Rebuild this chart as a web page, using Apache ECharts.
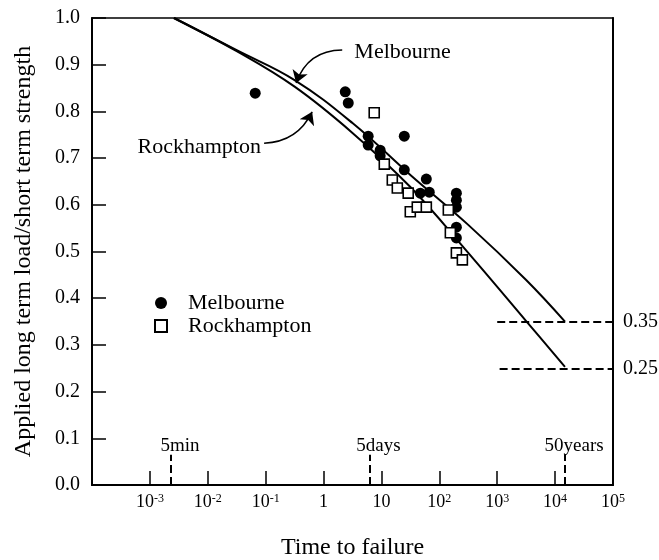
<!DOCTYPE html>
<html>
<head>
<meta charset="utf-8">
<script src="https://cdn.jsdelivr.net/npm/echarts@6/dist/echarts.min.js"></script>
<style>
html, body { margin: 0; padding: 0; background: #fff; }
#chart { width: 659px; height: 560px; }
</style>
</head>
<body>
<div id="chart"></div>
<script>
// test data (time to failure, load ratio)
const melbourneTime  = [0.066, 2.37, 2.67, 5.9, 5.9, 9.5, 9.5, 24.8, 24.8, 59.6, 46.9, 67, 197, 197, 197, 197, 197];
const melbourneRatio = [0.839, 0.842, 0.818, 0.747, 0.728, 0.717, 0.705, 0.747, 0.675, 0.655, 0.625, 0.627, 0.625, 0.61, 0.595, 0.552, 0.529];
const rockTime  = [7.5, 11.2, 15.4, 18.8, 29, 31.5, 41.6, 59.6, 143, 155, 197, 250];
const rockRatio = [0.797, 0.687, 0.653, 0.636, 0.625, 0.585, 0.595, 0.595, 0.589, 0.54, 0.497, 0.482];

// fitted curves, read at half-decade steps
const curveTime = [0.0026, 0.0316, 0.316, 3.16, 31.6, 316, 3162, 14800];
const melbourneCurveRatio = [1.0, 0.931, 0.867, 0.775, 0.664, 0.557, 0.439, 0.35];
const rockCurveRatio = [1.0, 0.929, 0.853, 0.754, 0.638, 0.497, 0.351, 0.253];

// time markers and long term limits
const markerNames = ['5min', '5days', '50years'];
const markerTimes = [0.00231, 6.2, 14900];
const markerTop = 0.065;
const markerLabelY = 0.084;
const limitRatios = [0.35, 0.25];
const limitStart = [1000, 1100];

const serif = 'Liberation Serif';

function zip(xs, ys) {
  return xs.map((x, i) => [x, ys[i]]);
}

let myChart = echarts.init(document.getElementById('chart'));

const dashedSegments = [];
markerTimes.forEach(t => dashedSegments.push({ coords: [[t, 0], [t, markerTop]] }));
limitRatios.forEach((r, i) => dashedSegments.push({ coords: [[limitStart[i], r], [1e5, r]] }));

const option = {
  animation: false,
  backgroundColor: '#fff',
  textStyle: { fontFamily: serif, color: '#000' },
  grid: {
    left: 92, right: 46, top: 18, bottom: 75,
    containLabel: false, outerBoundsMode: 'none',
    show: true, borderColor: '#000', borderWidth: 1.5
  },
  legend: {
    orient: 'vertical',
    left: 149, top: 287,
    itemWidth: 12, itemHeight: 12, itemGap: 1,
    data: ['Melbourne', 'Rockhampton'],
    textStyle: { fontFamily: serif, fontSize: 22, color: '#000', padding: [0, 0, 0, 16], lineHeight: 22 }
  },
  xAxis: {
    type: 'log', logBase: 10, min: 1e-4, max: 1e5,
    name: 'Time to failure',
    nameLocation: 'middle', nameGap: 51,
    nameTextStyle: { fontFamily: serif, fontSize: 24, color: '#000' },
    axisLine: { lineStyle: { color: '#000', width: 2 } },
    axisTick: { inside: true, length: 14, lineStyle: { color: '#000', width: 1.5 } },
    splitLine: { show: false },
    axisLabel: {
      margin: 8,
      formatter: function (v) {
        const e = Math.round(Math.log10(v));
        if (e === -4) return '';
        if (e === 0) return '{b|1}';
        if (e === 1) return '{b|10}';
        return '{b|10}{s|' + e + '}';
      },
      rich: {
        b: { fontFamily: serif, fontSize: 18, color: '#000', verticalAlign: 'bottom' },
        s: { fontFamily: serif, fontSize: 12, color: '#000', verticalAlign: 'top' }
      }
    }
  },
  yAxis: [{
    type: 'value', min: 0, max: 1, interval: 0.1,
    name: 'Applied long term load/short term strength',
    nameLocation: 'middle', nameGap: 56,
    nameTextStyle: { fontFamily: serif, fontSize: 24, color: '#000' },
    axisLine: { show: true, lineStyle: { color: '#000', width: 2 } },
    axisTick: { show: true, inside: true, length: 14, lineStyle: { color: '#000', width: 1.5 } },
    splitLine: { show: false },
    axisLabel: {
      margin: 12, fontFamily: serif, fontSize: 20, color: '#000',
      formatter: v => v.toFixed(1)
    }
  }, {
    type: 'value', min: 0, max: 1, interval: 0.05, position: 'right',
    axisLine: { show: true, lineStyle: { color: '#000', width: 2 } },
    axisTick: { show: false },
    splitLine: { show: false },
    axisLabel: {
      margin: 10, fontFamily: serif, fontSize: 20, color: '#000',
      formatter: v => limitRatios.some(r => Math.abs(r - v) < 1e-6) ? v.toFixed(2) : ''
    }
  }],
  series: [
    {
      name: 'Melbourne fit', type: 'line', smooth: 0.4, symbol: 'none',
      data: zip(curveTime, melbourneCurveRatio),
      lineStyle: { color: '#000', width: 2 }, z: 2
    },
    {
      name: 'Rockhampton fit', type: 'line', smooth: 0.4, symbol: 'none',
      data: zip(curveTime, rockCurveRatio),
      lineStyle: { color: '#000', width: 2 }, z: 2
    },
    {
      name: 'Melbourne', type: 'scatter', symbol: 'circle', symbolSize: 11,
      data: zip(melbourneTime, melbourneRatio),
      itemStyle: { color: '#000', opacity: 1 }, z: 3
    },
    {
      name: 'Rockhampton', type: 'scatter', symbol: 'rect', symbolSize: 10,
      data: zip(rockTime, rockRatio),
      itemStyle: { color: '#fff', borderColor: '#000', borderWidth: 1.6, opacity: 1 }, z: 4
    },
    {
      type: 'lines', coordinateSystem: 'cartesian2d', silent: true,
      data: dashedSegments,
      lineStyle: { color: '#000', width: 2, type: [8, 4], opacity: 1 }
    },
    {
      type: 'lines', coordinateSystem: 'cartesian2d', silent: true,
      symbol: ['none', 'arrow'], symbolSize: 12,
      data: [
        { coords: [[2.1, 0.9315], [0.336, 0.861]], lineStyle: { curveness: -0.35 } },
        { coords: [[0.094, 0.732], [0.635, 0.799]], lineStyle: { curveness: -0.3 } }
      ],
      lineStyle: { color: '#000', width: 1.5, opacity: 1 }
    },
    {
      type: 'scatter', symbolSize: 0, silent: true,
      itemStyle: { opacity: 1 },
      data: [
        { value: [3.4, 0.927], name: 'Melbourne', label: { position: 'right' } },
        { value: [0.083, 0.724], name: 'Rockhampton', label: { position: 'left' } }
      ],
      label: {
        show: true, distance: 0, formatter: '{b}',
        fontFamily: serif, fontSize: 22, color: '#000'
      }
    },
    {
      type: 'scatter', symbolSize: 0, silent: true,
      itemStyle: { opacity: 1 },
      data: markerNames.map((n, i) => ({ value: [markerTimes[i], markerLabelY], name: n })),
      label: {
        show: true, position: 'inside', offset: [9, 0], formatter: '{b}',
        fontFamily: serif, fontSize: 19, color: '#000'
      }
    }
  ]
};

myChart.setOption(option);
</script>
</body>
</html>
